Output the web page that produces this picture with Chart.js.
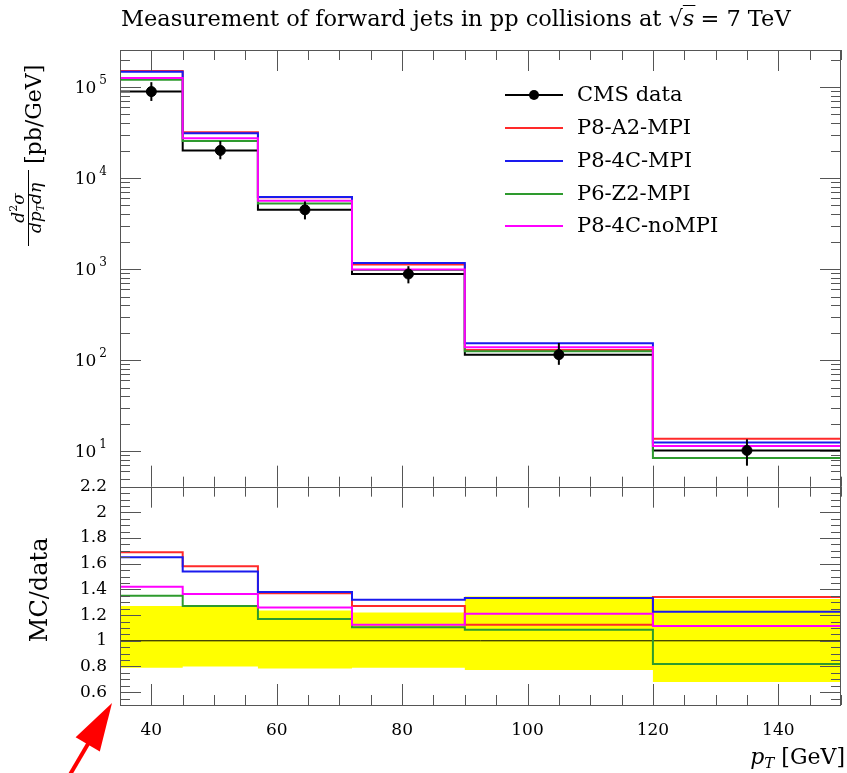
<!DOCTYPE html>
<html>
<head>
<meta charset="utf-8">
<script src="https://cdn.jsdelivr.net/npm/chart.js@4.4.1/dist/chart.umd.min.js"></script>
<style>
  html, body { margin: 0; padding: 0; background: #fff; }
</style>
</head>
<body>
<canvas id="fwdJets" width="847" height="773"></canvas>
<script>
// pT binning [GeV]
const binEdges = [35, 45, 57, 72, 90, 120, 150];
const binCenters = [40, 51, 64.5, 81, 105, 135];

// CMS data [pb/GeV] and its relative uncertainty (yellow band)
const cmsData = [8.9e4, 2.01e4, 4.48e3, 883, 115, 10.2];
const cmsBandLo = [0.79, 0.80, 0.785, 0.79, 0.773, 0.68];
const cmsBandHi = [1.27, 1.27, 1.235, 1.22, 1.345, 1.325];

// generator predictions [pb/GeV]
const p8A2Mpi = [1.50e5, 3.18e4, 6.14e3, 1121, 129, 13.7];
const p84CMpi = [1.47e5, 3.10e4, 6.18e3, 1166, 153, 12.5];
const p6Z2Mpi = [1.20e5, 2.55e4, 5.24e3, 976, 125, 8.4];
const p84CNoMpi = [1.26e5, 2.74e4, 5.64e3, 993, 139, 11.4];

// MC / data
const p8A2Ratio = [1.69, 1.58, 1.37, 1.27, 1.125, 1.34];
const p84CRatio = [1.65, 1.54, 1.38, 1.32, 1.333, 1.227];
const p6Z2Ratio = [1.35, 1.27, 1.17, 1.105, 1.085, 0.82];
const p84CNoRatio = [1.42, 1.365, 1.26, 1.125, 1.21, 1.115];

// axis ticks
const xTickLabels = [40, 60, 80, 100, 120, 140];
const ratioTickLabels = [0.6, 0.8, 1, 1.2, 1.4, 1.6, 1.8, 2, 2.2];
const logDecades = [1, 2, 3, 4, 5];

const FONT = '"DejaVu Serif", serif';

const mcSeries = [
  {label: 'P8-A2-MPI', color: '#ff2a2a', vals: p8A2Mpi, ratio: p8A2Ratio, order: 4},
  {label: 'P8-4C-MPI', color: '#1a1aee', vals: p84CMpi, ratio: p84CRatio, order: 3},
  {label: 'P6-Z2-MPI', color: '#2e9a2e', vals: p6Z2Mpi, ratio: p6Z2Ratio, order: 2},
  {label: 'P8-4C-noMPI', color: '#ff00ff', vals: p84CNoMpi, ratio: p84CNoRatio, order: 1}
];

// histogram: one point per left bin edge plus the last right edge, drawn stepped
function histPoints(vals) {
  const pts = vals.map((v, i) => ({x: binEdges[i], y: v}));
  pts.push({x: binEdges[binEdges.length - 1], y: vals[vals.length - 1]});
  return pts;
}

function histSet(vals, axis, color, width, order) {
  return {
    data: histPoints(vals), yAxisID: axis, borderColor: color, borderWidth: width,
    stepped: true, pointRadius: 0, fill: false, order: order
  };
}

const datasets = [
  // ratio panel
  {data: histPoints(cmsBandLo), yAxisID: 'yR', stepped: true, pointRadius: 0,
   borderWidth: 0, borderColor: 'rgba(0,0,0,0)', fill: false, order: 9},
  {data: histPoints(cmsBandHi), yAxisID: 'yR', stepped: true, pointRadius: 0,
   borderWidth: 0, borderColor: 'rgba(0,0,0,0)', backgroundColor: '#ffff00', fill: '-1', order: 8},
  {data: [{x: binEdges[0], y: 1}, {x: binEdges[binEdges.length - 1], y: 1}], yAxisID: 'yR',
   borderColor: '#000', borderWidth: 1, pointRadius: 0, fill: false, order: 7},
  ...mcSeries.map(s => histSet(s.ratio, 'yR', s.color, 2, s.order)),
  // main panel
  histSet(cmsData, 'y', '#000', 2, 5),
  ...mcSeries.map(s => histSet(s.vals, 'y', s.color, 2, s.order)),
  {data: cmsData.map((v, i) => ({x: binCenters[i], y: v})), yAxisID: 'y', showLine: false,
   pointRadius: 5, pointBackgroundColor: '#000', pointBorderColor: '#000', order: 0}
];

function textRun(ctx, parts, x, y, align) {
  let total = 0;
  parts.forEach(p => { ctx.font = p.font; p.w = ctx.measureText(p.t).width; total += p.w + (p.gap || 0); });
  let cx = align === 'center' ? x - total / 2 : align === 'right' ? x - total : x;
  const pos = [];
  parts.forEach(p => {
    ctx.font = p.font;
    ctx.fillText(p.t, cx, y + (p.dy || 0));
    pos.push(cx);
    cx += p.w + (p.gap || 0);
  });
  return pos;
}

const decorPlugin = {
  id: 'decor',
  afterDatasetsDraw(chart) {
    // data error bars
    const ctx = chart.ctx, xs = chart.scales.x, ys = chart.scales.y;
    ctx.save();
    ctx.strokeStyle = '#000';
    ctx.lineWidth = 2;
    cmsData.forEach((v, i) => {
      const px = xs.getPixelForValue(binCenters[i]);
      ctx.beginPath();
      ctx.moveTo(px, ys.getPixelForValue(v * cmsBandHi[i]));
      ctx.lineTo(px, ys.getPixelForValue(v * cmsBandLo[i]));
      ctx.stroke();
    });
    ctx.restore();
  },
  afterDraw(chart) {
    const ctx = chart.ctx, a = chart.chartArea;
    const xs = chart.scales.x, ys = chart.scales.y, yr = chart.scales.yR;
    ctx.save();

    // frames
    ctx.strokeStyle = '#555';
    ctx.lineWidth = 1;
    [ys, yr].forEach(s => {
      ctx.strokeRect(Math.round(a.left) + 0.5, Math.round(s.top) + 0.5,
        Math.round(a.right - a.left) - 1, Math.round(s.bottom - s.top));
    });

    // tick marks
    const line = (x1, y1, x2, y2) => {
      ctx.beginPath(); ctx.moveTo(x1, y1); ctx.lineTo(x2, y2); ctx.stroke();
    };
    for (let v = 35; v <= 150; v += 5) {
      const px = Math.round(xs.getPixelForValue(v)) + 0.5;
      const len = v % 20 === 0 ? 21 : 10;
      [ys, yr].forEach(s => {
        line(px, s.top, px, s.top + len);
        line(px, s.bottom, px, s.bottom - len);
      });
    }
    logDecades.concat([0]).forEach(d => {
      for (let m = 1; m <= 9; m++) {
        const v = m * Math.pow(10, d);
        if (v < ys.min || v > ys.max) continue;
        const py = Math.round(ys.getPixelForValue(v)) + 0.5;
        const len = m === 1 ? 21 : 10;
        line(a.left, py, a.left + len, py);
        line(a.right, py, a.right - len, py);
      }
    });
    for (let k = 10; k <= 44; k++) {
      const v = k * 0.05;
      const py = Math.round(yr.getPixelForValue(v)) + 0.5;
      const len = k % 4 === 0 ? 21 : 10;
      line(a.left, py, a.left + len, py);
      line(a.right, py, a.right - len, py);
    }

    ctx.fillStyle = '#000';
    ctx.textBaseline = 'alphabetic';

    // log axis labels 10^n
    logDecades.forEach(d => {
      const py = ys.getPixelForValue(Math.pow(10, d));
      textRun(ctx, [
        {t: '10', font: `17px ${FONT}`, dy: 6, gap: 3},
        {t: String(d), font: `12px ${FONT}`, dy: -3}
      ], 107, py, 'right');
    });

    // title
    const tParts = [
      {t: 'Measurement of forward jets in pp collisions at ', font: `22.5px ${FONT}`},
      {t: '\u221A', font: `22.5px ${FONT}`},
      {t: 's', font: `italic 22.5px ${FONT}`, gap: 6},
      {t: '= 7 TeV', font: `22.5px ${FONT}`}
    ];
    const tp = textRun(ctx, tParts, 121, 26, 'left');
    ctx.strokeStyle = '#000';
    ctx.lineWidth = 1;
    line(tp[2], 5.5, tp[2] + tParts[2].w + 1, 5.5);

    // legend
    const legY = [95, 128, 161, 194, 226];
    ctx.textBaseline = 'middle';
    ctx.font = `21px ${FONT}`;
    ctx.lineWidth = 2;
    ctx.strokeStyle = '#000';
    line(505, legY[0], 563, legY[0]);
    ctx.beginPath(); ctx.arc(534, legY[0], 5, 0, 2 * Math.PI); ctx.fill();
    ctx.fillText('CMS data', 577, legY[0] + 1);
    mcSeries.forEach((s, i) => {
      ctx.strokeStyle = s.color;
      line(505, legY[i + 1], 563, legY[i + 1]);
      ctx.fillText(s.label, 577, legY[i + 1] + 1);
    });

    // x axis title
    ctx.textBaseline = 'alphabetic';
    textRun(ctx, [
      {t: 'p', font: `italic 22px ${FONT}`},
      {t: 'T', font: `italic 15px ${FONT}`, dy: 4, gap: 7},
      {t: '[GeV]', font: `22px ${FONT}`}
    ], 845, 764, 'right');

    // y axis titles (rotated)
    ctx.save();
    ctx.translate(41, 0);
    ctx.rotate(-Math.PI / 2);
    ctx.font = `22px ${FONT}`;
    ctx.textAlign = 'left';
    ctx.fillText('[pb/GeV]', -164, 0);
    const fc = -208;
    textRun(ctx, [
      {t: 'd', font: `italic 17px ${FONT}`},
      {t: '2', font: `11px ${FONT}`, dy: -7},
      {t: '\u03C3', font: `italic 17px ${FONT}`}
    ], fc, -17, 'center');
    textRun(ctx, [
      {t: 'dp', font: `italic 17px ${FONT}`},
      {t: 'T', font: `italic 11px ${FONT}`, dy: 3},
      {t: 'd\u03B7', font: `italic 17px ${FONT}`}
    ], fc, 0, 'center');
    ctx.lineWidth = 1;
    ctx.strokeStyle = '#000';
    line(fc - 38, -12.5, fc + 38, -12.5);
    const rc = -(yr.top + yr.bottom) / 2 + 6;
    ctx.font = `24px ${FONT}`;
    ctx.textAlign = 'center';
    ctx.fillText('MC/data', rc, 6);
    ctx.restore();

    // red arrow pointing at the origin corner
    const tip = {x: 112, y: 703}, tail = {x: 68, y: 778};
    const dx = tip.x - tail.x, dy = tip.y - tail.y, L = Math.hypot(dx, dy);
    const ux = dx / L, uy = dy / L, head = 48, half = 14;
    const bx = tip.x - ux * head, by = tip.y - uy * head;
    ctx.strokeStyle = '#ff0000';
    ctx.fillStyle = '#ff0000';
    ctx.lineWidth = 4;
    line(tail.x, tail.y, bx + ux * 4, by + uy * 4);
    ctx.beginPath();
    ctx.moveTo(tip.x, tip.y);
    ctx.lineTo(bx - uy * half, by + ux * half);
    ctx.lineTo(bx + uy * half, by - ux * half);
    ctx.closePath();
    ctx.fill();

    ctx.restore();
  }
};

new Chart(document.getElementById('fwdJets'), {
  type: 'line',
  data: {datasets: datasets},
  options: {
    responsive: false,
    animation: false,
    devicePixelRatio: 1,
    layout: {padding: {top: 50, right: 1, left: 0, bottom: 0}},
    plugins: {legend: {display: false}, title: {display: false}, tooltip: {enabled: false}},
    scales: {
      x: {
        type: 'linear', min: 35, max: 150, position: 'bottom',
        grid: {display: false, drawTicks: false}, border: {display: false},
        afterBuildTicks: s => { s.ticks = xTickLabels.map(v => ({value: v})); },
        afterFit: s => { s.height = 68; },
        ticks: {padding: 15, color: '#000', font: {family: FONT, size: 17}, maxRotation: 0, autoSkip: false}
      },
      yR: {
        type: 'linear', min: 0.5, max: 2.2, position: 'left', stack: 'panels', stackWeight: 1,
        grid: {display: false, drawTicks: false}, border: {display: false},
        afterBuildTicks: s => { s.ticks = ratioTickLabels.map(v => ({value: v})); },
        afterFit: s => { s.width = 120; },
        ticks: {padding: 13, color: '#000', font: {family: FONT, size: 17}, autoSkip: false,
                callback: v => String(v)}
      },
      y: {
        type: 'logarithmic', min: 4.08, max: 2.55e5, position: 'left', stack: 'panels', stackWeight: 2,
        grid: {display: false, drawTicks: false}, border: {display: false},
        afterBuildTicks: s => { s.ticks = logDecades.map(d => ({value: Math.pow(10, d)})); },
        afterFit: s => { s.width = 120; },
        ticks: {display: false}
      }
    }
  },
  plugins: [decorPlugin]
});
</script>
</body>
</html>
